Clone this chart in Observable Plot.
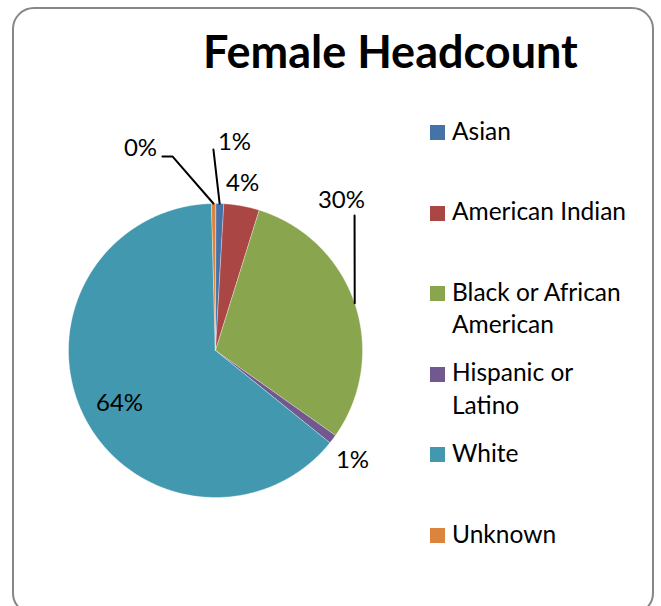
<!DOCTYPE html>
<html>
<head>
<meta charset="utf-8">
<script src="https://cdn.jsdelivr.net/npm/d3@7"></script>
<script src="https://cdn.jsdelivr.net/npm/@observablehq/plot@0.6"></script>
<style>
  html, body { margin: 0; padding: 0; background: #fff; }
  #card { position: relative; width: 661px; height: 606px; overflow: hidden; font-family: Lato, "Open Sans", sans-serif; color: #000; }
  #frame { position: absolute; left: 12px; top: 7px; width: 642px; height: 608px; box-sizing: border-box; border: 2px solid #878787; border-radius: 22px; }
  #title { position: absolute; left: 203px; top: 29px; font-size: 45px; line-height: 45px; font-weight: 700; white-space: nowrap; }
  #chart { position: absolute; left: 0; top: 0; }
  #legend { position: absolute; left: 430px; top: 0; }
  .row { position: absolute; left: 0; display: flex; align-items: flex-start; }
  .sw { width: 15px; height: 15px; margin-top: 10.5px; margin-right: 7px; flex: none; }
  .lab { font-size: 24.5px; line-height: 32.5px; width: 190px; }
</style>
</head>
<body>
<div id="card">
  <div id="frame"></div>
  <div id="title">Female Headcount</div>
  <div id="chart"></div>
  <div id="legend"></div>
</div>
<script>
// ---- data ----
const categories = ["Asian", "American Indian", "Black or African American", "Hispanic or Latino", "White", "Unknown"];
const shares = [0.9, 3.9, 30.0, 1.0, 63.75, 0.45];
const colors = ["#4572A7", "#AA4643", "#89A54E", "#71588F", "#4198AF", "#DB843D"];

// ---- layout (label placement relative to pie, in pie-radius units) ----
const labelAt = [[0.129, 1.415], [0.184, 1.136], [0.857, 1.020], [0.932, -0.748], [-0.653, -0.361], [-0.510, 1.374]];
const leaderFrom = [[[-0.014, 1.367]], null, [[0.946, 0.918]], null, null, [[-0.361, 1.320], [-0.293, 1.320]]];

const cx = 215, cy = 350, R = 147;
const total = d3.sum(shares);

// slice polygons
const slices = [];
const mids = [];
let acc = 0;
categories.forEach((cat, i) => {
  const a0 = acc / total * 2 * Math.PI;
  acc += shares[i];
  const a1 = acc / total * 2 * Math.PI;
  mids.push((a0 + a1) / 2);
  slices.push({cat, x: 0, y: 0});
  const n = Math.max(2, Math.ceil((a1 - a0) / (Math.PI / 360)));
  for (let k = 0; k <= n; k++) {
    const a = a0 + (a1 - a0) * k / n;
    slices.push({cat, x: Math.sin(a), y: Math.cos(a)});
  }
});

const labels = categories.map((cat, i) => ({
  cat, x: labelAt[i][0], y: labelAt[i][1],
  text: Math.round(shares[i] / total * 100) + "%"
}));

const leaders = [];
categories.forEach((cat, i) => {
  if (!leaderFrom[i]) return;
  leaderFrom[i].forEach(([x, y]) => leaders.push({cat, x, y}));
  leaders.push({cat, x: Math.sin(mids[i]), y: Math.cos(mids[i])});
});

const plot = Plot.plot({
  width: 661,
  height: 606,
  margin: 0,
  style: {background: "transparent", overflow: "visible"},
  x: {domain: [-1, 1], range: [cx - R, cx + R], axis: null},
  y: {domain: [-1, 1], range: [cy + R, cy - R], axis: null},
  color: {domain: categories, range: colors},
  marks: [
    Plot.line(slices, {x: "x", y: "y", z: "cat", fill: "cat", stroke: "#ffffff", strokeOpacity: 0.45, strokeWidth: 0.8, curve: "linear-closed"}),
    Plot.line(leaders, {x: "x", y: "y", z: "cat", stroke: "#000", strokeWidth: 2, curve: "linear"}),
    Plot.text(labels, {x: "x", y: "y", text: "text", fill: "#000", fontSize: 24, fontFamily: "Lato, 'Open Sans', sans-serif", textAnchor: "middle", lineAnchor: "middle"})
  ]
});
document.getElementById("chart").appendChild(plot);

// legend using the plot's color scale
const color = plot.scale("color");
const legend = document.getElementById("legend");
categories.forEach((cat, i) => {
  const row = document.createElement("div");
  row.className = "row";
  row.style.top = (114.5 + i * 80.6) + "px";
  const sw = document.createElement("div");
  sw.className = "sw";
  sw.style.background = color.range[color.domain.indexOf(cat)];
  const lab = document.createElement("div");
  lab.className = "lab";
  lab.textContent = cat;
  row.appendChild(sw);
  row.appendChild(lab);
  legend.appendChild(row);
});
</script>
</body>
</html>
